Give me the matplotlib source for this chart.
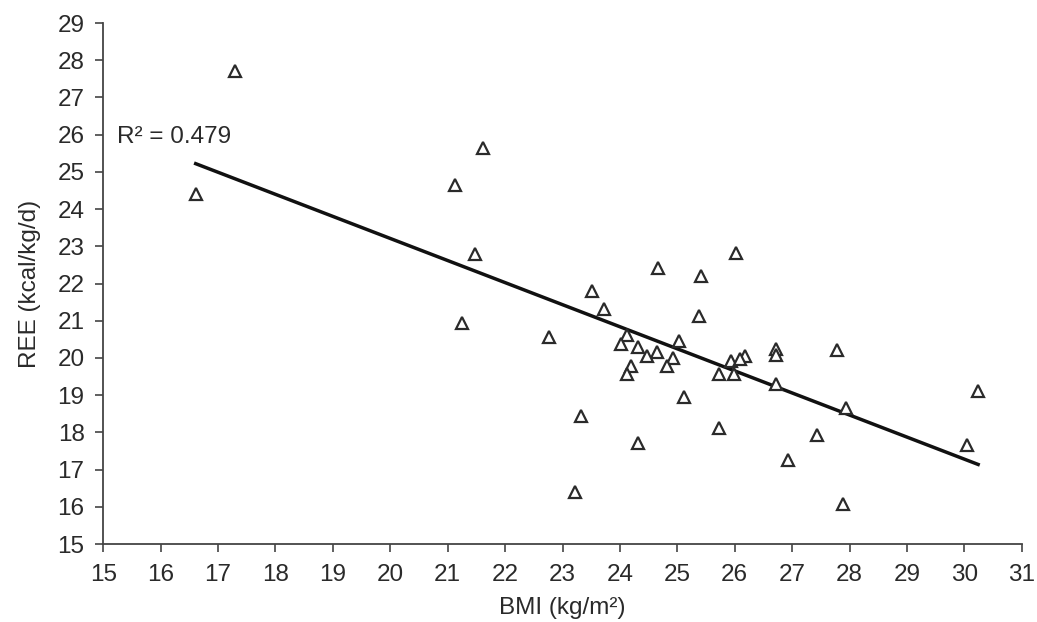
import matplotlib
matplotlib.use("Agg")
import matplotlib.pyplot as plt
import numpy as np

plt.rcParams['font.family'] = ['Liberation Sans', 'DejaVu Sans']

bmi = [17.30, 16.61, 21.62, 21.12, 21.48, 21.25,
       26.02, 24.67, 25.42, 23.52, 23.72, 25.38, 22.77, 24.12, 24.02, 24.32,
       25.03, 24.64, 24.48, 24.92, 24.19, 24.12, 24.82, 25.94, 26.18, 26.10,
       25.73, 25.98, 26.72, 26.72, 26.72,
       27.78, 30.24, 27.93, 30.04, 27.43, 26.93, 27.88,
       25.12, 23.32, 25.73, 24.32, 23.22]
ree = [27.70, 24.40, 25.64, 24.64, 22.80, 20.95,
       22.81, 22.41, 22.20, 21.80, 21.31, 21.13, 20.57, 20.62, 20.37, 20.29,
       20.46, 20.15, 20.04, 20.01, 19.79, 19.56, 19.79, 19.93, 20.06, 19.97,
       19.57, 19.57, 20.24, 20.08, 19.30,
       20.20, 19.12, 18.65, 17.66, 17.93, 17.26, 16.07,
       18.96, 18.45, 18.11, 17.71, 16.41]

fit_slope = -0.593
fit_intercept = 35.07
r2_label = "R² = 0.479"

x_ticks = list(range(15, 32))
y_ticks = list(range(15, 30))

fig = plt.figure(figsize=(10.37, 6.22), dpi=100)
ax = fig.add_axes([0.0996, 0.1254, 0.8857, 0.8376])

ink = '#2a2a2a'
fs = 17.5
ax.plot(bmi, ree, linestyle='none', marker='^', markersize=8.2,
        markerfacecolor='white', markeredgecolor=ink, markeredgewidth=1.6,
        zorder=3)

xs = np.array([min(bmi), max(bmi)])
ax.plot(xs, fit_slope * xs + fit_intercept, color='#111111', linewidth=2.5,
        zorder=2)

ax.text(15.24, 25.94, r2_label, fontsize=fs, color=ink, va='center', ha='left')

ax.set_xlim(15, 31)
ax.set_ylim(15, 29)
ax.set_xticks(x_ticks)
ax.set_yticks(y_ticks)
ax.spines['top'].set_visible(False)
ax.spines['right'].set_visible(False)
for s in ('left', 'bottom'):
    ax.spines[s].set_linewidth(1.3)
    ax.spines[s].set_color('#444444')
ax.tick_params(direction='out', length=5.5, width=1.2, colors='#444444',
               labelsize=fs, labelcolor=ink)
ax.tick_params(axis='y', pad=8)
ax.tick_params(axis='x', pad=9)

ax.set_xlabel("BMI (kg/m²)", fontsize=fs, color=ink, labelpad=8)
ax.set_ylabel("REE (kcal/kg/d)", fontsize=fs, color=ink, labelpad=12)

fig.savefig("out.png", dpi=100, facecolor='white')
